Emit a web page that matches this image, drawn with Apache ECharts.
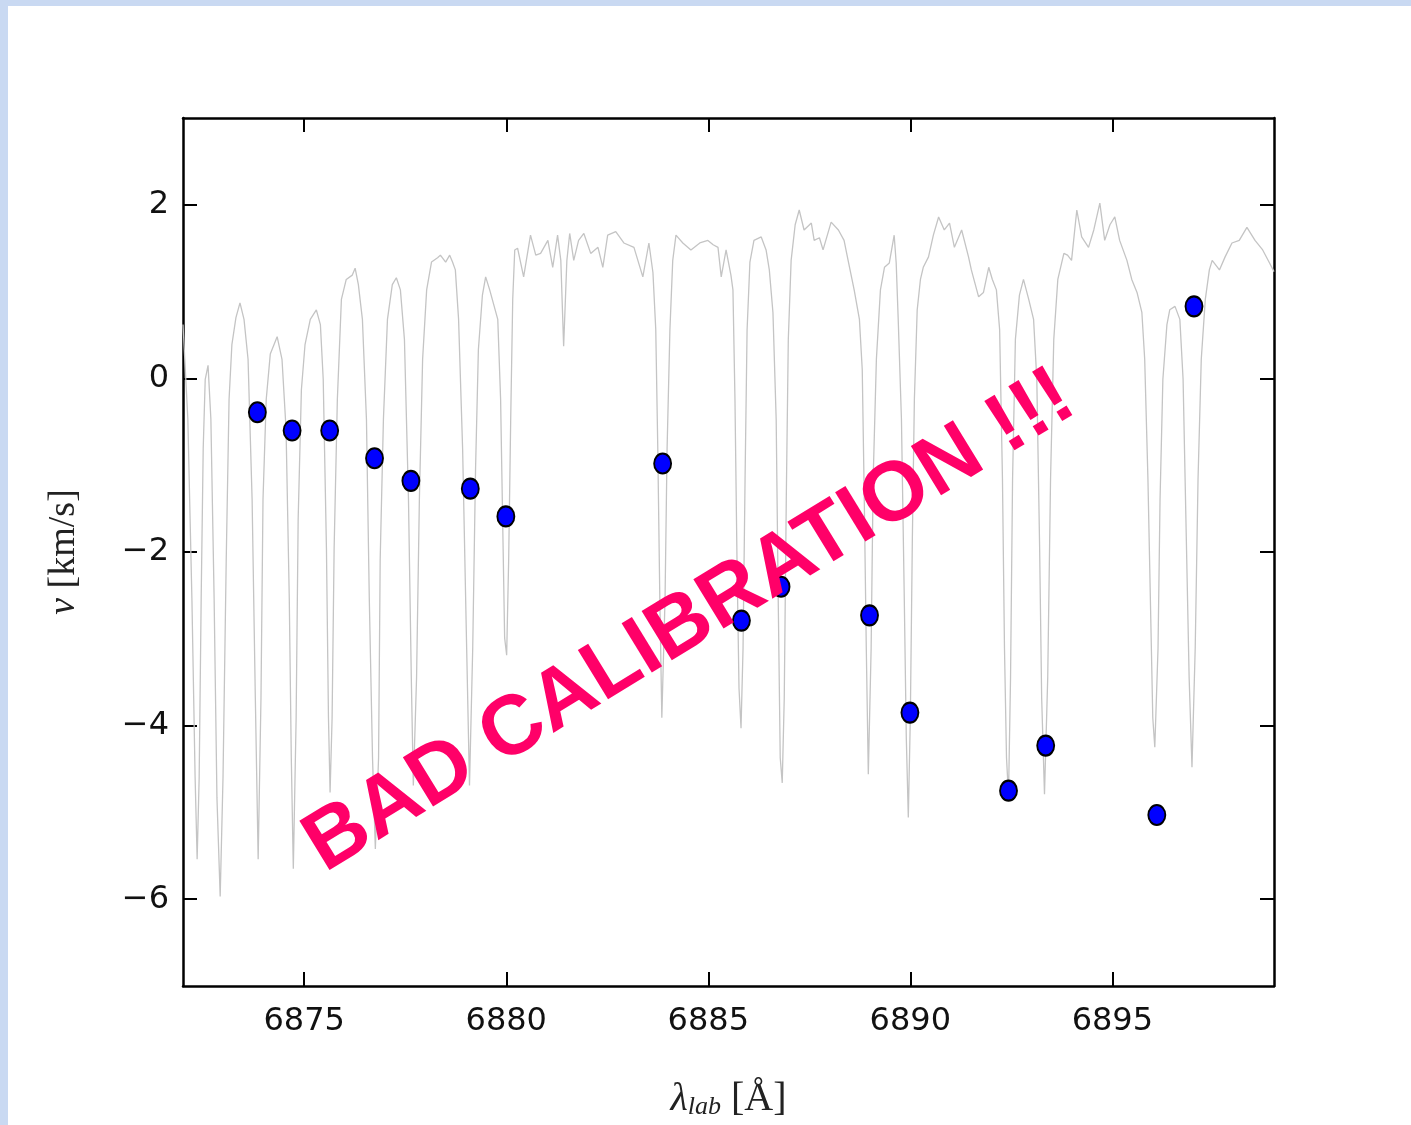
<!DOCTYPE html>
<html>
<head>
<meta charset="utf-8">
<script src="https://cdn.jsdelivr.net/npm/echarts@6/dist/echarts.min.js"></script>
<style>
html,body{margin:0;padding:0;background:#fff;}
#chart{width:1411px;height:1125px;}
</style>
</head>
<body>
<div id="chart"></div>
<script>
// Gray spectrum trace (wavelength in Å, scaled to velocity axis units)
const specWave = [6872.00,6872.12,6872.22,6872.30,6872.35,6872.40,6872.45,6872.50,6872.55,6872.62,6872.69,6872.77,6872.84,6872.92,6872.99,6873.07,6873.14,6873.21,6873.31,6873.41,6873.51,6873.61,6873.71,6873.79,6873.86,6873.93,6873.98,6874.06,6874.16,6874.33,6874.45,6874.55,6874.63,6874.68,6874.73,6874.80,6874.85,6874.93,6875.02,6875.15,6875.30,6875.40,6875.47,6875.55,6875.60,6875.64,6875.69,6875.74,6875.82,6875.92,6876.04,6876.19,6876.26,6876.34,6876.44,6876.54,6876.61,6876.69,6876.76,6876.84,6876.88,6876.96,6877.06,6877.18,6877.28,6877.38,6877.48,6877.58,6877.65,6877.70,6877.78,6877.85,6877.93,6878.03,6878.15,6878.30,6878.37,6878.50,6878.60,6878.67,6878.74,6878.82,6878.92,6879.02,6879.09,6879.17,6879.24,6879.31,6879.41,6879.49,6879.59,6879.69,6879.79,6879.86,6879.91,6879.96,6880.01,6880.06,6880.11,6880.16,6880.21,6880.28,6880.43,6880.60,6880.73,6880.85,6881.03,6881.15,6881.27,6881.35,6881.42,6881.50,6881.57,6881.67,6881.79,6881.92,6882.09,6882.27,6882.39,6882.51,6882.71,6882.91,6883.16,6883.38,6883.53,6883.63,6883.70,6883.75,6883.80,6883.85,6883.93,6883.98,6884.05,6884.12,6884.20,6884.37,6884.57,6884.79,6884.99,6885.12,6885.24,6885.32,6885.44,6885.56,6885.61,6885.66,6885.71,6885.76,6885.81,6885.86,6885.91,6885.96,6886.03,6886.13,6886.31,6886.43,6886.51,6886.60,6886.68,6886.73,6886.78,6886.83,6886.88,6886.93,6886.98,6887.05,6887.15,6887.25,6887.37,6887.55,6887.62,6887.75,6887.84,6888.04,6888.22,6888.36,6888.46,6888.61,6888.74,6888.81,6888.86,6888.91,6888.96,6889.03,6889.08,6889.16,6889.26,6889.36,6889.48,6889.60,6889.65,6889.70,6889.78,6889.85,6889.90,6889.95,6890.00,6890.05,6890.10,6890.17,6890.25,6890.32,6890.45,6890.57,6890.70,6890.84,6890.97,6891.09,6891.27,6891.44,6891.51,6891.69,6891.81,6891.94,6892.03,6892.13,6892.21,6892.28,6892.33,6892.38,6892.43,6892.48,6892.53,6892.60,6892.70,6892.80,6892.93,6893.05,6893.13,6893.20,6893.25,6893.32,6893.40,6893.47,6893.55,6893.65,6893.80,6893.89,6893.99,6894.12,6894.24,6894.41,6894.54,6894.69,6894.81,6894.94,6895.06,6895.18,6895.36,6895.48,6895.61,6895.73,6895.80,6895.88,6895.95,6896.00,6896.05,6896.13,6896.18,6896.25,6896.35,6896.42,6896.55,6896.67,6896.75,6896.82,6896.90,6896.97,6897.05,6897.12,6897.20,6897.30,6897.40,6897.47,6897.65,6897.79,6897.96,6898.14,6898.33,6898.53,6898.72,6898.89,6899.00];
const specVel = [0.62,-0.47,-2.53,-4.60,-5.54,-4.60,-2.53,-0.81,-0.01,0.15,-0.47,-2.53,-4.83,-5.97,-4.60,-2.08,-0.24,0.39,0.70,0.87,0.68,0.22,-1.39,-3.68,-5.54,-3.68,-1.39,-0.24,0.28,0.48,0.22,-0.58,-2.53,-4.37,-5.65,-3.91,-1.62,-0.13,0.39,0.68,0.79,0.62,-0.01,-1.96,-3.91,-4.77,-3.91,-1.96,-0.24,0.91,1.14,1.19,1.27,1.08,0.68,-0.47,-2.53,-4.37,-5.42,-4.37,-2.08,-0.47,0.68,1.08,1.16,1.02,0.45,-1.39,-3.45,-4.69,-3.45,-1.39,0.22,1.02,1.34,1.39,1.42,1.34,1.42,1.34,1.25,0.68,-0.81,-3.11,-4.69,-3.11,-1.04,0.33,0.96,1.17,1.02,0.85,0.68,-0.24,-1.62,-2.99,-3.19,-2.08,-0.47,0.91,1.48,1.50,1.17,1.65,1.42,1.44,1.59,1.28,1.65,1.36,0.37,1.36,1.67,1.36,1.59,1.67,1.44,1.51,1.28,1.65,1.69,1.56,1.51,1.17,1.56,1.22,0.56,-0.81,-2.53,-3.91,-2.53,-0.81,0.56,1.36,1.65,1.56,1.48,1.56,1.59,1.54,1.51,1.17,1.48,1.19,1.02,-0.24,-2.08,-3.57,-4.03,-3.11,-1.16,0.56,1.34,1.59,1.63,1.48,1.25,0.76,-0.47,-2.53,-4.37,-4.66,-3.68,-1.39,0.45,1.36,1.77,1.94,1.71,1.79,1.59,1.62,1.48,1.80,1.71,1.59,1.36,1.02,0.68,0.10,-1.39,-3.11,-4.56,-3.11,-1.16,0.22,1.02,1.28,1.33,1.65,1.33,0.68,-0.47,-2.53,-4.14,-5.06,-3.91,-1.85,-0.24,0.79,1.14,1.28,1.40,1.65,1.86,1.71,1.79,1.51,1.71,1.40,1.25,0.94,0.99,1.28,1.14,1.02,0.56,-1.16,-3.11,-4.37,-4.81,-3.45,-1.16,0.45,0.96,1.14,0.91,0.68,-0.01,-1.96,-3.68,-4.79,-3.45,-1.16,0.45,1.14,1.44,1.42,1.36,1.94,1.63,1.51,1.71,2.02,1.59,1.77,1.86,1.59,1.36,1.14,0.99,0.76,0.22,-1.16,-2.76,-3.91,-4.25,-3.11,-1.39,-0.01,0.62,0.79,0.83,0.68,-0.01,-1.62,-3.45,-4.48,-3.11,-1.16,0.22,0.91,1.25,1.36,1.25,1.40,1.56,1.59,1.74,1.59,1.48,1.33,1.23];

// Measured line velocities
const lineWave = [6873.84,6874.70,6875.63,6876.74,6877.64,6879.11,6879.99,6883.87,6885.82,6886.80,6888.99,6889.99,6892.43,6893.35,6896.10,6897.02];
const lineVel  = [-0.39,-0.60,-0.60,-0.92,-1.18,-1.27,-1.59,-0.98,-2.79,-2.40,-2.73,-3.85,-4.75,-4.23,-5.03,0.83];

const xTicks = [6875, 6880, 6885, 6890, 6895];
const yTicks = [-6, -4, -2, 0, 2];

const chart = echarts.init(document.getElementById('chart'), null, {renderer: 'canvas'});

const specData = specWave.map((w, i) => [w, specVel[i]]);
const ptData = lineWave.map((w, i) => [w, lineVel[i]]);
const fmtY = v => (v < 0 ? '\u2212' + Math.abs(v) : String(v));
const fmtX = v => String(v);

const axisLineStyle = {color: '#000', width: 2.5};
const tickStyle = {color: '#000', width: 2};

const option = {
  animation: false,
  backgroundColor: '#fff',
  grid: {left: 183, top: 118, right: 137, bottom: 135, containLabel: false},
  xAxis: [
    {
      type: 'value', min: 6872, max: 6899, position: 'bottom',
      axisLine: {show: true, onZero: false, lineStyle: axisLineStyle},
      axisTick: {show: true, inside: true, length: 14, lineStyle: tickStyle, customValues: xTicks},
      axisLabel: {show: true, customValues: xTicks, margin: 20, color: '#111',
                  fontFamily: 'DejaVu Sans', fontSize: 32, formatter: fmtX},
      splitLine: {show: false},
      name: '{lam|\u03bb}{sub|lab}{br| [\u00c5]}',
      nameLocation: 'middle', nameGap: 92,
      nameTextStyle: {
        rich: {
          lam: {fontFamily: 'Liberation Serif', fontStyle: 'italic', fontSize: 40, color: '#222'},
          sub: {fontFamily: 'Liberation Serif', fontStyle: 'italic', fontSize: 26, color: '#222', padding: [16, 0, 0, 0]},
          br: {fontFamily: 'Liberation Serif', fontSize: 40, color: '#222'}
        }
      }
    },
    {
      type: 'value', min: 6872, max: 6899, position: 'top',
      axisLine: {show: true, onZero: false, lineStyle: axisLineStyle},
      axisTick: {show: true, inside: true, length: 14, lineStyle: tickStyle, customValues: xTicks},
      axisLabel: {show: false},
      splitLine: {show: false}
    }
  ],
  yAxis: [
    {
      type: 'value', min: -7, max: 3, position: 'left',
      axisLine: {show: true, onZero: false, lineStyle: axisLineStyle},
      axisTick: {show: true, inside: true, length: 14, lineStyle: tickStyle, customValues: yTicks},
      axisLabel: {show: true, customValues: yTicks, margin: 14, color: '#111',
                  fontFamily: 'DejaVu Sans', fontSize: 32, formatter: fmtY},
      splitLine: {show: false},
      name: '{v|v}{u| [km/s]}',
      nameLocation: 'middle', nameGap: 100, nameRotate: 90,
      nameTextStyle: {
        rich: {
          v: {fontFamily: 'Liberation Serif', fontStyle: 'italic', fontSize: 38, color: '#222'},
          u: {fontFamily: 'Liberation Serif', fontSize: 38, color: '#222'}
        }
      }
    },
    {
      type: 'value', min: -7, max: 3, position: 'right',
      axisLine: {show: true, onZero: false, lineStyle: axisLineStyle},
      axisTick: {show: true, inside: true, length: 14, lineStyle: tickStyle, customValues: yTicks},
      axisLabel: {show: false},
      splitLine: {show: false}
    }
  ],
  series: [
    {
      type: 'line', name: 'spectrum', data: specData,
      xAxisIndex: 0, yAxisIndex: 0,
      showSymbol: false, symbol: 'none', clip: true,
      lineStyle: {color: '#c4c4c4', width: 1.3},
      z: 2, silent: true
    },
    {
      type: 'scatter', name: 'lines', data: ptData,
      xAxisIndex: 0, yAxisIndex: 0,
      symbol: 'circle', symbolSize: [17, 20],
      itemStyle: {color: '#0000ff', borderColor: '#000', borderWidth: 2, opacity: 1},
      z: 3
    }
  ],
  graphic: [
    {type: 'rect', left: 0, top: 0, z: -10, silent: true,
     shape: {width: 1411, height: 6}, style: {fill: '#c9d9f2'}},
    {type: 'rect', left: 0, top: 0, z: -10, silent: true,
     shape: {width: 8, height: 1125}, style: {fill: '#c9d9f2'}},
    {
      type: 'text', x: 690, y: 622, rotation: 31.5 * Math.PI / 180, z: 100,
      style: {
        text: 'BAD CALIBRATION !!!',
        fill: '#ff0068',
        font: 'bold 84px "Liberation Sans", Arial, sans-serif',
        align: 'center', verticalAlign: 'middle'
      }
    }
  ]
};
chart.setOption(option);
</script>
</body>
</html>
